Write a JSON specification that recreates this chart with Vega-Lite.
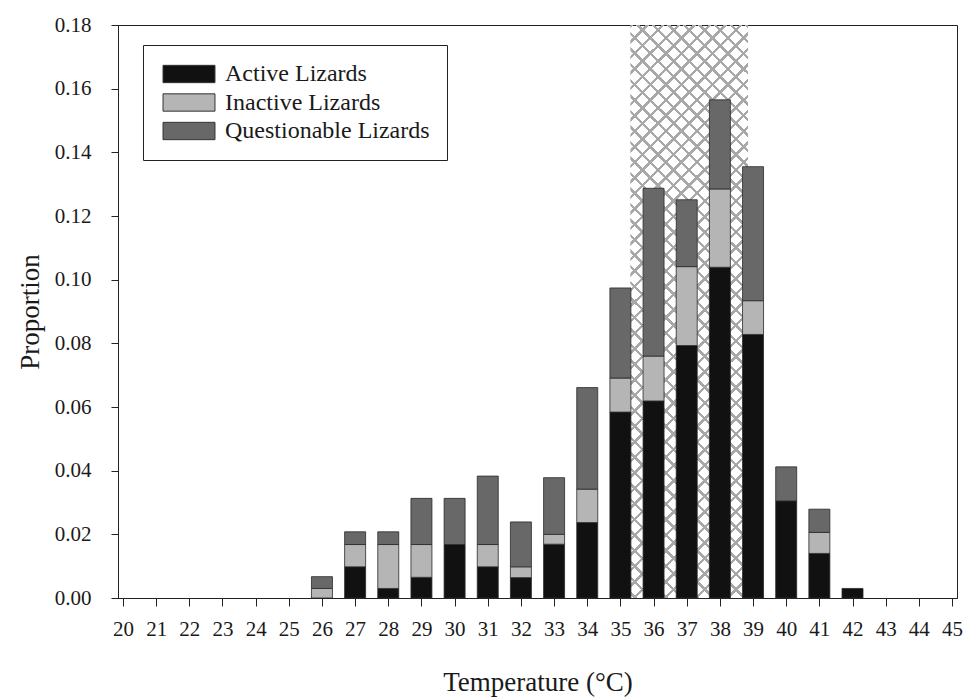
{
  "$schema": "https://vega.github.io/schema/vega-lite/v6.json",
  "width": 839,
  "height": 573,
  "autosize": {"type": "none"},
  "padding": {"left": 118, "top": 25, "right": 17, "bottom": 101},
  "background": "white",
  "config": {
    "view": {"stroke": "#222", "strokeWidth": 1},
    "font": "Liberation Serif",
    "axis": {
      "labelFont": "Liberation Serif",
      "titleFont": "Liberation Serif",
      "labelFontSize": 21,
      "titleFontSize": 27,
      "titleFontWeight": "normal",
      "labelColor": "#1a1a1a",
      "titleColor": "#1a1a1a",
      "domainColor": "#222",
      "tickColor": "#222",
      "grid": false,
      "labelFlush": false,
      "labelOverlap": false
    },
    "axisX": {
      "values": [20, 21, 22, 23, 24, 25, 26, 27, 28, 29, 30, 31, 32, 33, 34, 35, 36, 37, 38, 39, 40, 41, 42, 43, 44, 45],
      "format": "d",
      "tickSize": 8,
      "labelPadding": 12,
      "titlePadding": 30
    }
  },
  "datasets": {
    "band": [{"lo": 35.3, "hi": 38.85, "ymin": 0, "ymax": 0.18}],
    "counts": [
      {"t": 26, "group": "Inactive Lizards", "p": 0.003},
      {"t": 26, "group": "Questionable Lizards", "p": 0.0037},
      {"t": 27, "group": "Active Lizards", "p": 0.0098},
      {"t": 27, "group": "Inactive Lizards", "p": 0.007},
      {"t": 27, "group": "Questionable Lizards", "p": 0.004},
      {"t": 28, "group": "Active Lizards", "p": 0.003},
      {"t": 28, "group": "Inactive Lizards", "p": 0.0138},
      {"t": 28, "group": "Questionable Lizards", "p": 0.004},
      {"t": 29, "group": "Active Lizards", "p": 0.0065},
      {"t": 29, "group": "Inactive Lizards", "p": 0.0103},
      {"t": 29, "group": "Questionable Lizards", "p": 0.0145},
      {"t": 30, "group": "Active Lizards", "p": 0.0168},
      {"t": 30, "group": "Questionable Lizards", "p": 0.0145},
      {"t": 31, "group": "Active Lizards", "p": 0.0098},
      {"t": 31, "group": "Inactive Lizards", "p": 0.007},
      {"t": 31, "group": "Questionable Lizards", "p": 0.0215},
      {"t": 32, "group": "Active Lizards", "p": 0.0064},
      {"t": 32, "group": "Inactive Lizards", "p": 0.0034},
      {"t": 32, "group": "Questionable Lizards", "p": 0.0141},
      {"t": 33, "group": "Active Lizards", "p": 0.0169},
      {"t": 33, "group": "Inactive Lizards", "p": 0.0031},
      {"t": 33, "group": "Questionable Lizards", "p": 0.0178},
      {"t": 34, "group": "Active Lizards", "p": 0.0237},
      {"t": 34, "group": "Inactive Lizards", "p": 0.0105},
      {"t": 34, "group": "Questionable Lizards", "p": 0.0319},
      {"t": 35, "group": "Active Lizards", "p": 0.0584},
      {"t": 35, "group": "Inactive Lizards", "p": 0.0107},
      {"t": 35, "group": "Questionable Lizards", "p": 0.0283},
      {"t": 36, "group": "Active Lizards", "p": 0.0619},
      {"t": 36, "group": "Inactive Lizards", "p": 0.0141},
      {"t": 36, "group": "Questionable Lizards", "p": 0.0527},
      {"t": 37, "group": "Active Lizards", "p": 0.0793},
      {"t": 37, "group": "Inactive Lizards", "p": 0.0248},
      {"t": 37, "group": "Questionable Lizards", "p": 0.021},
      {"t": 38, "group": "Active Lizards", "p": 0.1039},
      {"t": 38, "group": "Inactive Lizards", "p": 0.0246},
      {"t": 38, "group": "Questionable Lizards", "p": 0.028},
      {"t": 39, "group": "Active Lizards", "p": 0.0828},
      {"t": 39, "group": "Inactive Lizards", "p": 0.0106},
      {"t": 39, "group": "Questionable Lizards", "p": 0.0421},
      {"t": 40, "group": "Active Lizards", "p": 0.0305},
      {"t": 40, "group": "Questionable Lizards", "p": 0.0107},
      {"t": 41, "group": "Active Lizards", "p": 0.014},
      {"t": 41, "group": "Inactive Lizards", "p": 0.0066},
      {"t": 41, "group": "Questionable Lizards", "p": 0.0073},
      {"t": 42, "group": "Active Lizards", "p": 0.003}
    ]
  },
  "layer": [
    {
      "data": {"name": "band"},
      "mark": {
        "type": "rect",
        "fill": {
          "gradient": "linear", "x1": 0, "y1": 0, "x2": 0.2371, "y2": 1.1564,
          "stops": [
            {"offset": 0, "color": "#a8a8a8"}, {"offset": 0.005, "color": "#a8a8a8"}, {"offset": 0.005, "color": "transparent"},
            {"offset": 0.0225, "color": "transparent"}, {"offset": 0.0225, "color": "#a8a8a8"}, {"offset": 0.0275, "color": "#a8a8a8"}, {"offset": 0.0275, "color": "transparent"},
            {"offset": 0.045, "color": "transparent"}, {"offset": 0.045, "color": "#a8a8a8"}, {"offset": 0.05, "color": "#a8a8a8"}, {"offset": 0.05, "color": "transparent"},
            {"offset": 0.0675, "color": "transparent"}, {"offset": 0.0675, "color": "#a8a8a8"}, {"offset": 0.0725, "color": "#a8a8a8"}, {"offset": 0.0725, "color": "transparent"},
            {"offset": 0.09, "color": "transparent"}, {"offset": 0.09, "color": "#a8a8a8"}, {"offset": 0.095, "color": "#a8a8a8"}, {"offset": 0.095, "color": "transparent"},
            {"offset": 0.1125, "color": "transparent"}, {"offset": 0.1125, "color": "#a8a8a8"}, {"offset": 0.1175, "color": "#a8a8a8"}, {"offset": 0.1175, "color": "transparent"},
            {"offset": 0.135, "color": "transparent"}, {"offset": 0.135, "color": "#a8a8a8"}, {"offset": 0.14, "color": "#a8a8a8"}, {"offset": 0.14, "color": "transparent"},
            {"offset": 0.1575, "color": "transparent"}, {"offset": 0.1575, "color": "#a8a8a8"}, {"offset": 0.1625, "color": "#a8a8a8"}, {"offset": 0.1625, "color": "transparent"},
            {"offset": 0.18, "color": "transparent"}, {"offset": 0.18, "color": "#a8a8a8"}, {"offset": 0.185, "color": "#a8a8a8"}, {"offset": 0.185, "color": "transparent"},
            {"offset": 0.2025, "color": "transparent"}, {"offset": 0.2025, "color": "#a8a8a8"}, {"offset": 0.2075, "color": "#a8a8a8"}, {"offset": 0.2075, "color": "transparent"},
            {"offset": 0.225, "color": "transparent"}, {"offset": 0.225, "color": "#a8a8a8"}, {"offset": 0.23, "color": "#a8a8a8"}, {"offset": 0.23, "color": "transparent"},
            {"offset": 0.2475, "color": "transparent"}, {"offset": 0.2475, "color": "#a8a8a8"}, {"offset": 0.2525, "color": "#a8a8a8"}, {"offset": 0.2525, "color": "transparent"},
            {"offset": 0.27, "color": "transparent"}, {"offset": 0.27, "color": "#a8a8a8"}, {"offset": 0.275, "color": "#a8a8a8"}, {"offset": 0.275, "color": "transparent"},
            {"offset": 0.2925, "color": "transparent"}, {"offset": 0.2925, "color": "#a8a8a8"}, {"offset": 0.2975, "color": "#a8a8a8"}, {"offset": 0.2975, "color": "transparent"},
            {"offset": 0.315, "color": "transparent"}, {"offset": 0.315, "color": "#a8a8a8"}, {"offset": 0.32, "color": "#a8a8a8"}, {"offset": 0.32, "color": "transparent"},
            {"offset": 0.3375, "color": "transparent"}, {"offset": 0.3375, "color": "#a8a8a8"}, {"offset": 0.3425, "color": "#a8a8a8"}, {"offset": 0.3425, "color": "transparent"},
            {"offset": 0.36, "color": "transparent"}, {"offset": 0.36, "color": "#a8a8a8"}, {"offset": 0.365, "color": "#a8a8a8"}, {"offset": 0.365, "color": "transparent"},
            {"offset": 0.3825, "color": "transparent"}, {"offset": 0.3825, "color": "#a8a8a8"}, {"offset": 0.3875, "color": "#a8a8a8"}, {"offset": 0.3875, "color": "transparent"},
            {"offset": 0.405, "color": "transparent"}, {"offset": 0.405, "color": "#a8a8a8"}, {"offset": 0.41, "color": "#a8a8a8"}, {"offset": 0.41, "color": "transparent"},
            {"offset": 0.4275, "color": "transparent"}, {"offset": 0.4275, "color": "#a8a8a8"}, {"offset": 0.4325, "color": "#a8a8a8"}, {"offset": 0.4325, "color": "transparent"},
            {"offset": 0.45, "color": "transparent"}, {"offset": 0.45, "color": "#a8a8a8"}, {"offset": 0.455, "color": "#a8a8a8"}, {"offset": 0.455, "color": "transparent"},
            {"offset": 0.4725, "color": "transparent"}, {"offset": 0.4725, "color": "#a8a8a8"}, {"offset": 0.4775, "color": "#a8a8a8"}, {"offset": 0.4775, "color": "transparent"},
            {"offset": 0.495, "color": "transparent"}, {"offset": 0.495, "color": "#a8a8a8"}, {"offset": 0.5, "color": "#a8a8a8"}, {"offset": 0.5, "color": "transparent"},
            {"offset": 0.5175, "color": "transparent"}, {"offset": 0.5175, "color": "#a8a8a8"}, {"offset": 0.5225, "color": "#a8a8a8"}, {"offset": 0.5225, "color": "transparent"},
            {"offset": 0.54, "color": "transparent"}, {"offset": 0.54, "color": "#a8a8a8"}, {"offset": 0.545, "color": "#a8a8a8"}, {"offset": 0.545, "color": "transparent"},
            {"offset": 0.5625, "color": "transparent"}, {"offset": 0.5625, "color": "#a8a8a8"}, {"offset": 0.5675, "color": "#a8a8a8"}, {"offset": 0.5675, "color": "transparent"},
            {"offset": 0.585, "color": "transparent"}, {"offset": 0.585, "color": "#a8a8a8"}, {"offset": 0.59, "color": "#a8a8a8"}, {"offset": 0.59, "color": "transparent"},
            {"offset": 0.6075, "color": "transparent"}, {"offset": 0.6075, "color": "#a8a8a8"}, {"offset": 0.6125, "color": "#a8a8a8"}, {"offset": 0.6125, "color": "transparent"},
            {"offset": 0.63, "color": "transparent"}, {"offset": 0.63, "color": "#a8a8a8"}, {"offset": 0.635, "color": "#a8a8a8"}, {"offset": 0.635, "color": "transparent"},
            {"offset": 0.6525, "color": "transparent"}, {"offset": 0.6525, "color": "#a8a8a8"}, {"offset": 0.6575, "color": "#a8a8a8"}, {"offset": 0.6575, "color": "transparent"},
            {"offset": 0.675, "color": "transparent"}, {"offset": 0.675, "color": "#a8a8a8"}, {"offset": 0.68, "color": "#a8a8a8"}, {"offset": 0.68, "color": "transparent"},
            {"offset": 0.6975, "color": "transparent"}, {"offset": 0.6975, "color": "#a8a8a8"}, {"offset": 0.7025, "color": "#a8a8a8"}, {"offset": 0.7025, "color": "transparent"},
            {"offset": 0.72, "color": "transparent"}, {"offset": 0.72, "color": "#a8a8a8"}, {"offset": 0.725, "color": "#a8a8a8"}, {"offset": 0.725, "color": "transparent"},
            {"offset": 0.7425, "color": "transparent"}, {"offset": 0.7425, "color": "#a8a8a8"}, {"offset": 0.7475, "color": "#a8a8a8"}, {"offset": 0.7475, "color": "transparent"},
            {"offset": 0.765, "color": "transparent"}, {"offset": 0.765, "color": "#a8a8a8"}, {"offset": 0.77, "color": "#a8a8a8"}, {"offset": 0.77, "color": "transparent"},
            {"offset": 0.7875, "color": "transparent"}, {"offset": 0.7875, "color": "#a8a8a8"}, {"offset": 0.7925, "color": "#a8a8a8"}, {"offset": 0.7925, "color": "transparent"},
            {"offset": 0.81, "color": "transparent"}, {"offset": 0.81, "color": "#a8a8a8"}, {"offset": 0.815, "color": "#a8a8a8"}, {"offset": 0.815, "color": "transparent"},
            {"offset": 0.8325, "color": "transparent"}, {"offset": 0.8325, "color": "#a8a8a8"}, {"offset": 0.8375, "color": "#a8a8a8"}, {"offset": 0.8375, "color": "transparent"},
            {"offset": 0.855, "color": "transparent"}, {"offset": 0.855, "color": "#a8a8a8"}, {"offset": 0.86, "color": "#a8a8a8"}, {"offset": 0.86, "color": "transparent"},
            {"offset": 0.8775, "color": "transparent"}, {"offset": 0.8775, "color": "#a8a8a8"}, {"offset": 0.8825, "color": "#a8a8a8"}, {"offset": 0.8825, "color": "transparent"},
            {"offset": 0.9, "color": "transparent"}, {"offset": 0.9, "color": "#a8a8a8"}, {"offset": 0.905, "color": "#a8a8a8"}, {"offset": 0.905, "color": "transparent"},
            {"offset": 0.9225, "color": "transparent"}, {"offset": 0.9225, "color": "#a8a8a8"}, {"offset": 0.9275, "color": "#a8a8a8"}, {"offset": 0.9275, "color": "transparent"},
            {"offset": 0.945, "color": "transparent"}, {"offset": 0.945, "color": "#a8a8a8"}, {"offset": 0.95, "color": "#a8a8a8"}, {"offset": 0.95, "color": "transparent"},
            {"offset": 0.9675, "color": "transparent"}, {"offset": 0.9675, "color": "#a8a8a8"}, {"offset": 0.9725, "color": "#a8a8a8"}, {"offset": 0.9725, "color": "transparent"},
            {"offset": 0.99, "color": "transparent"}, {"offset": 0.99, "color": "#a8a8a8"}, {"offset": 0.995, "color": "#a8a8a8"}, {"offset": 0.995, "color": "transparent"},
            {"offset": 1, "color": "transparent"}
          ]
        }
      },
      "encoding": {
        "x": {
          "field": "lo", "type": "quantitative",
          "scale": {"domain": [20, 45], "nice": false, "zero": false},
          "title": "Temperature (°C)"
        },
        "x2": {"field": "hi"},
        "y": {
          "field": "ymin", "type": "quantitative",
          "scale": {"domain": [0, 0.18], "nice": false},
          "axis": {
            "title": "Proportion",
            "values": [0, 0.02, 0.04, 0.06, 0.08, 0.1, 0.12, 0.14, 0.16, 0.18],
            "format": ".2f", "tickSize": 7, "labelPadding": 20, "titlePadding": 10
          }
        },
        "y2": {"field": "ymax"}
      }
    },
    {
      "data": {"name": "band"},
      "mark": {
        "type": "rect",
        "fill": {
          "gradient": "linear", "x1": 1, "y1": 0, "x2": 0.7629, "y2": 1.1564,
          "stops": [
            {"offset": 0, "color": "#a8a8a8"}, {"offset": 0.005, "color": "#a8a8a8"}, {"offset": 0.005, "color": "transparent"},
            {"offset": 0.0225, "color": "transparent"}, {"offset": 0.0225, "color": "#a8a8a8"}, {"offset": 0.0275, "color": "#a8a8a8"}, {"offset": 0.0275, "color": "transparent"},
            {"offset": 0.045, "color": "transparent"}, {"offset": 0.045, "color": "#a8a8a8"}, {"offset": 0.05, "color": "#a8a8a8"}, {"offset": 0.05, "color": "transparent"},
            {"offset": 0.0675, "color": "transparent"}, {"offset": 0.0675, "color": "#a8a8a8"}, {"offset": 0.0725, "color": "#a8a8a8"}, {"offset": 0.0725, "color": "transparent"},
            {"offset": 0.09, "color": "transparent"}, {"offset": 0.09, "color": "#a8a8a8"}, {"offset": 0.095, "color": "#a8a8a8"}, {"offset": 0.095, "color": "transparent"},
            {"offset": 0.1125, "color": "transparent"}, {"offset": 0.1125, "color": "#a8a8a8"}, {"offset": 0.1175, "color": "#a8a8a8"}, {"offset": 0.1175, "color": "transparent"},
            {"offset": 0.135, "color": "transparent"}, {"offset": 0.135, "color": "#a8a8a8"}, {"offset": 0.14, "color": "#a8a8a8"}, {"offset": 0.14, "color": "transparent"},
            {"offset": 0.1575, "color": "transparent"}, {"offset": 0.1575, "color": "#a8a8a8"}, {"offset": 0.1625, "color": "#a8a8a8"}, {"offset": 0.1625, "color": "transparent"},
            {"offset": 0.18, "color": "transparent"}, {"offset": 0.18, "color": "#a8a8a8"}, {"offset": 0.185, "color": "#a8a8a8"}, {"offset": 0.185, "color": "transparent"},
            {"offset": 0.2025, "color": "transparent"}, {"offset": 0.2025, "color": "#a8a8a8"}, {"offset": 0.2075, "color": "#a8a8a8"}, {"offset": 0.2075, "color": "transparent"},
            {"offset": 0.225, "color": "transparent"}, {"offset": 0.225, "color": "#a8a8a8"}, {"offset": 0.23, "color": "#a8a8a8"}, {"offset": 0.23, "color": "transparent"},
            {"offset": 0.2475, "color": "transparent"}, {"offset": 0.2475, "color": "#a8a8a8"}, {"offset": 0.2525, "color": "#a8a8a8"}, {"offset": 0.2525, "color": "transparent"},
            {"offset": 0.27, "color": "transparent"}, {"offset": 0.27, "color": "#a8a8a8"}, {"offset": 0.275, "color": "#a8a8a8"}, {"offset": 0.275, "color": "transparent"},
            {"offset": 0.2925, "color": "transparent"}, {"offset": 0.2925, "color": "#a8a8a8"}, {"offset": 0.2975, "color": "#a8a8a8"}, {"offset": 0.2975, "color": "transparent"},
            {"offset": 0.315, "color": "transparent"}, {"offset": 0.315, "color": "#a8a8a8"}, {"offset": 0.32, "color": "#a8a8a8"}, {"offset": 0.32, "color": "transparent"},
            {"offset": 0.3375, "color": "transparent"}, {"offset": 0.3375, "color": "#a8a8a8"}, {"offset": 0.3425, "color": "#a8a8a8"}, {"offset": 0.3425, "color": "transparent"},
            {"offset": 0.36, "color": "transparent"}, {"offset": 0.36, "color": "#a8a8a8"}, {"offset": 0.365, "color": "#a8a8a8"}, {"offset": 0.365, "color": "transparent"},
            {"offset": 0.3825, "color": "transparent"}, {"offset": 0.3825, "color": "#a8a8a8"}, {"offset": 0.3875, "color": "#a8a8a8"}, {"offset": 0.3875, "color": "transparent"},
            {"offset": 0.405, "color": "transparent"}, {"offset": 0.405, "color": "#a8a8a8"}, {"offset": 0.41, "color": "#a8a8a8"}, {"offset": 0.41, "color": "transparent"},
            {"offset": 0.4275, "color": "transparent"}, {"offset": 0.4275, "color": "#a8a8a8"}, {"offset": 0.4325, "color": "#a8a8a8"}, {"offset": 0.4325, "color": "transparent"},
            {"offset": 0.45, "color": "transparent"}, {"offset": 0.45, "color": "#a8a8a8"}, {"offset": 0.455, "color": "#a8a8a8"}, {"offset": 0.455, "color": "transparent"},
            {"offset": 0.4725, "color": "transparent"}, {"offset": 0.4725, "color": "#a8a8a8"}, {"offset": 0.4775, "color": "#a8a8a8"}, {"offset": 0.4775, "color": "transparent"},
            {"offset": 0.495, "color": "transparent"}, {"offset": 0.495, "color": "#a8a8a8"}, {"offset": 0.5, "color": "#a8a8a8"}, {"offset": 0.5, "color": "transparent"},
            {"offset": 0.5175, "color": "transparent"}, {"offset": 0.5175, "color": "#a8a8a8"}, {"offset": 0.5225, "color": "#a8a8a8"}, {"offset": 0.5225, "color": "transparent"},
            {"offset": 0.54, "color": "transparent"}, {"offset": 0.54, "color": "#a8a8a8"}, {"offset": 0.545, "color": "#a8a8a8"}, {"offset": 0.545, "color": "transparent"},
            {"offset": 0.5625, "color": "transparent"}, {"offset": 0.5625, "color": "#a8a8a8"}, {"offset": 0.5675, "color": "#a8a8a8"}, {"offset": 0.5675, "color": "transparent"},
            {"offset": 0.585, "color": "transparent"}, {"offset": 0.585, "color": "#a8a8a8"}, {"offset": 0.59, "color": "#a8a8a8"}, {"offset": 0.59, "color": "transparent"},
            {"offset": 0.6075, "color": "transparent"}, {"offset": 0.6075, "color": "#a8a8a8"}, {"offset": 0.6125, "color": "#a8a8a8"}, {"offset": 0.6125, "color": "transparent"},
            {"offset": 0.63, "color": "transparent"}, {"offset": 0.63, "color": "#a8a8a8"}, {"offset": 0.635, "color": "#a8a8a8"}, {"offset": 0.635, "color": "transparent"},
            {"offset": 0.6525, "color": "transparent"}, {"offset": 0.6525, "color": "#a8a8a8"}, {"offset": 0.6575, "color": "#a8a8a8"}, {"offset": 0.6575, "color": "transparent"},
            {"offset": 0.675, "color": "transparent"}, {"offset": 0.675, "color": "#a8a8a8"}, {"offset": 0.68, "color": "#a8a8a8"}, {"offset": 0.68, "color": "transparent"},
            {"offset": 0.6975, "color": "transparent"}, {"offset": 0.6975, "color": "#a8a8a8"}, {"offset": 0.7025, "color": "#a8a8a8"}, {"offset": 0.7025, "color": "transparent"},
            {"offset": 0.72, "color": "transparent"}, {"offset": 0.72, "color": "#a8a8a8"}, {"offset": 0.725, "color": "#a8a8a8"}, {"offset": 0.725, "color": "transparent"},
            {"offset": 0.7425, "color": "transparent"}, {"offset": 0.7425, "color": "#a8a8a8"}, {"offset": 0.7475, "color": "#a8a8a8"}, {"offset": 0.7475, "color": "transparent"},
            {"offset": 0.765, "color": "transparent"}, {"offset": 0.765, "color": "#a8a8a8"}, {"offset": 0.77, "color": "#a8a8a8"}, {"offset": 0.77, "color": "transparent"},
            {"offset": 0.7875, "color": "transparent"}, {"offset": 0.7875, "color": "#a8a8a8"}, {"offset": 0.7925, "color": "#a8a8a8"}, {"offset": 0.7925, "color": "transparent"},
            {"offset": 0.81, "color": "transparent"}, {"offset": 0.81, "color": "#a8a8a8"}, {"offset": 0.815, "color": "#a8a8a8"}, {"offset": 0.815, "color": "transparent"},
            {"offset": 0.8325, "color": "transparent"}, {"offset": 0.8325, "color": "#a8a8a8"}, {"offset": 0.8375, "color": "#a8a8a8"}, {"offset": 0.8375, "color": "transparent"},
            {"offset": 0.855, "color": "transparent"}, {"offset": 0.855, "color": "#a8a8a8"}, {"offset": 0.86, "color": "#a8a8a8"}, {"offset": 0.86, "color": "transparent"},
            {"offset": 0.8775, "color": "transparent"}, {"offset": 0.8775, "color": "#a8a8a8"}, {"offset": 0.8825, "color": "#a8a8a8"}, {"offset": 0.8825, "color": "transparent"},
            {"offset": 0.9, "color": "transparent"}, {"offset": 0.9, "color": "#a8a8a8"}, {"offset": 0.905, "color": "#a8a8a8"}, {"offset": 0.905, "color": "transparent"},
            {"offset": 0.9225, "color": "transparent"}, {"offset": 0.9225, "color": "#a8a8a8"}, {"offset": 0.9275, "color": "#a8a8a8"}, {"offset": 0.9275, "color": "transparent"},
            {"offset": 0.945, "color": "transparent"}, {"offset": 0.945, "color": "#a8a8a8"}, {"offset": 0.95, "color": "#a8a8a8"}, {"offset": 0.95, "color": "transparent"},
            {"offset": 0.9675, "color": "transparent"}, {"offset": 0.9675, "color": "#a8a8a8"}, {"offset": 0.9725, "color": "#a8a8a8"}, {"offset": 0.9725, "color": "transparent"},
            {"offset": 0.99, "color": "transparent"}, {"offset": 0.99, "color": "#a8a8a8"}, {"offset": 0.995, "color": "#a8a8a8"}, {"offset": 0.995, "color": "transparent"},
            {"offset": 1, "color": "transparent"}
          ]
        }
      },
      "encoding": {
        "x": {"field": "lo", "type": "quantitative"},
        "x2": {"field": "hi"},
        "y": {"field": "ymin", "type": "quantitative"},
        "y2": {"field": "ymax"}
      }
    },
    {
      "data": {"name": "counts"},
      "mark": {"type": "bar", "size": 21, "stroke": "#2a2a2a", "strokeWidth": 0.8},
      "encoding": {
        "x": {"field": "t", "type": "quantitative"},
        "y": {"field": "p", "type": "quantitative", "stack": "zero"},
        "color": {
          "field": "group",
          "type": "nominal",
          "scale": {
            "domain": ["Active Lizards", "Inactive Lizards", "Questionable Lizards"],
            "range": ["#111111", "#b5b5b5", "#686868"]
          },
          "legend": {
            "title": null,
            "orient": "none",
            "legendX": 25,
            "legendY": 20,
            "direction": "vertical",
            "strokeColor": "#222",
            "fillColor": "white",
            "padding": 17,
            "rowPadding": 4.5,
            "labelFont": "Liberation Serif",
            "labelFontSize": 24,
            "labelColor": "#1a1a1a",
            "labelOffset": 24,
            "labelLimit": 400,
            "symbolType": "M-3,-1H3V1H-3Z",
            "symbolSize": 300,
            "symbolOffset": 17,
            "symbolStrokeColor": "#333",
            "symbolStrokeWidth": 1,
            "symbolOpacity": 1
          }
        },
        "order": {"field": "group", "sort": "ascending"}
      }
    }
  ]
}
